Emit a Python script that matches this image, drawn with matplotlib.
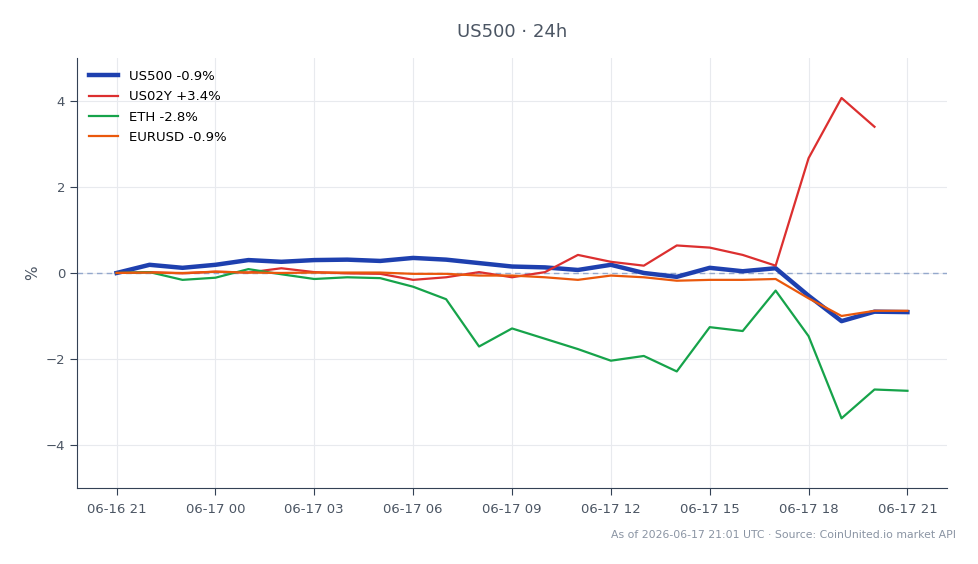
import numpy as np
import pandas as pd
import matplotlib
matplotlib.use("Agg")
import matplotlib.pyplot as plt
import matplotlib.dates as mdates

# hourly % change over the last 24h
times = pd.date_range("2026-06-16 21:00", "2026-06-17 21:00", freq="h")

us500 = [0, 0.19, 0.12, 0.19, 0.30, 0.26, 0.30, 0.31, 0.28, 0.35, 0.31, 0.23, 0.15,
         0.13, 0.07, 0.19, 0.0, -0.09, 0.12, 0.04, 0.11, -0.53, -1.12, -0.90, -0.91]
us02y = [0, 0.02, -0.01, 0.03, 0.01, 0.11, 0.02, -0.01, -0.02, -0.16, -0.10, 0.02,
         -0.10, 0.02, 0.42, 0.26, 0.17, 0.64, 0.59, 0.42, 0.17, 2.67, 4.07, 3.40]
eth = [0, 0.02, -0.16, -0.11, 0.09, -0.03, -0.14, -0.10, -0.12, -0.32, -0.61, -1.71,
       -1.29, -1.53, -1.77, -2.04, -1.93, -2.29, -1.26, -1.35, -0.41, -1.47, -3.38,
       -2.71, -2.74]
eurusd = [0, 0.01, 0.0, 0.03, 0.01, 0.0, 0.01, 0.01, 0.01, -0.02, -0.02, -0.06, -0.06,
          -0.10, -0.16, -0.06, -0.10, -0.18, -0.16, -0.16, -0.14, -0.59, -1.00, -0.88,
          -0.88]

labels = ["US500 -0.9%", "US02Y +3.4%", "ETH -2.8%", "EURUSD -0.9%"]
colors = ["#1e40af", "#dc2f2f", "#16a34a", "#ea580c"]
widths = [3.2, 1.6, 1.6, 1.6]

text_col = "#4b5563"
spine_col = "#334155"

fig = plt.figure(figsize=(9.79, 5.64), dpi=100)
ax = fig.add_axes([0.0787, 0.1348, 0.8886, 0.7624])

series = [us500, us02y, eth, eurusd]
for vals, lab, c, w in zip(series, labels, colors, widths):
    ax.plot(times[:len(vals)], vals, color=c, lw=w, label=lab, zorder=3)

ax.axhline(0, color="#94a8cc", lw=1, ls=(0, (4, 3)), zorder=2)

ax.set_ylim(-5, 5)
ax.set_yticks([-4, -2, 0, 2, 4])
ax.set_yticklabels(["\u22124", "\u22122", "0", "2", "4"])
ax.set_xlim(times[0] - pd.Timedelta(hours=1.2), times[-1] + pd.Timedelta(hours=1.2))
ax.xaxis.set_major_locator(mdates.HourLocator(byhour=range(0, 24, 3)))
ax.xaxis.set_major_formatter(mdates.DateFormatter("%m-%d %H"))

ax.grid(True, color="#e8eaee", lw=0.8, zorder=0)
ax.set_axisbelow(True)
for s in ["top", "right"]:
    ax.spines[s].set_visible(False)
for s in ["left", "bottom"]:
    ax.spines[s].set_color(spine_col)
ax.tick_params(colors=text_col, labelsize=9.5, length=5, color=spine_col)
ax.tick_params(axis="x", pad=6)

ax.set_ylabel("%", color=text_col, fontsize=11)
ax.set_title("US500 \u00b7 24h", color=text_col, fontsize=13, pad=15)

ax.legend(loc="upper left", frameon=False, fontsize=9.5, handlelength=2.2,
          labelspacing=0.56, borderaxespad=0.5)

fig.text(0.976, 0.052, "As of 2026-06-17 21:01 UTC \u00b7 Source: CoinUnited.io market API",
         ha="right", va="center", fontsize=7.8, color="#8a94a3")

fig.savefig("out.png", dpi=100)
